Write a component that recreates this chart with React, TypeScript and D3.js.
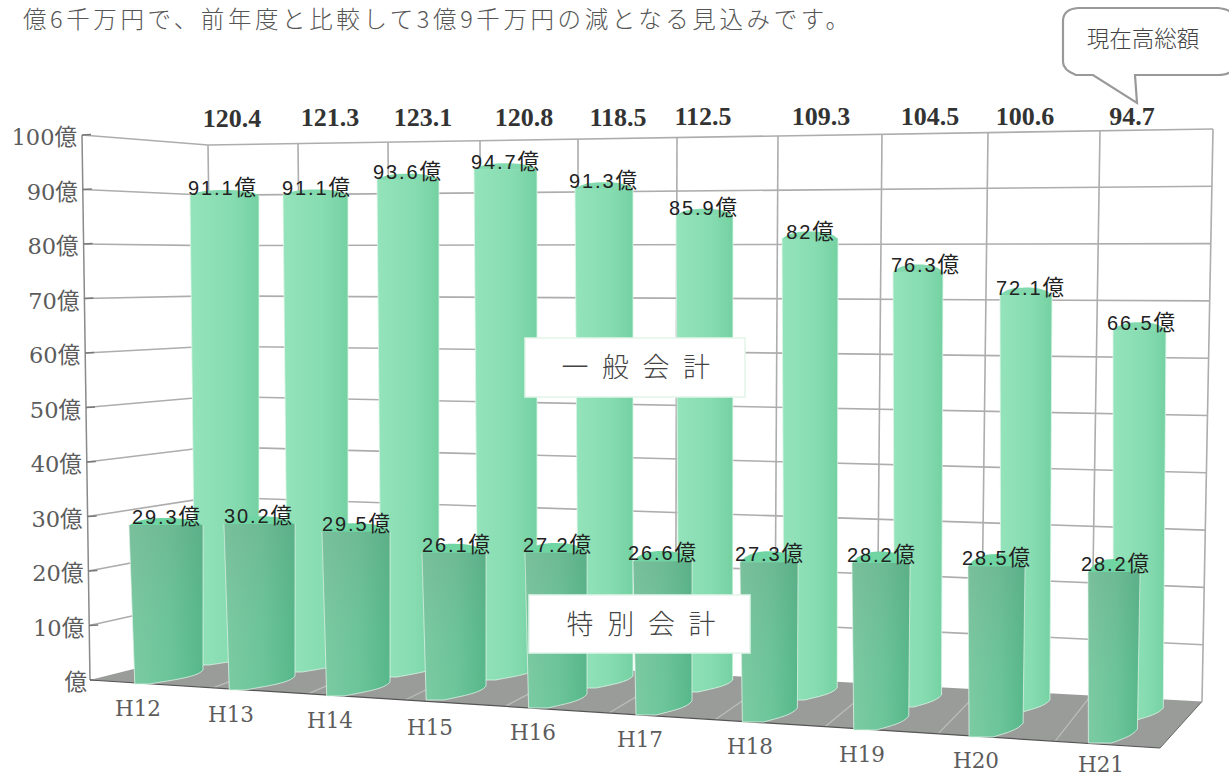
import React from "react";
import * as d3 from "d3";

// ---------- data ----------
const categories = ["H12", "H13", "H14", "H15", "H16", "H17", "H18", "H19", "H20", "H21"];
const generalAccount = [91.1, 91.1, 93.6, 94.7, 91.3, 85.9, 82, 76.3, 72.1, 66.5];
const specialAccount = [29.3, 30.2, 29.5, 26.1, 27.2, 26.6, 27.3, 28.2, 28.5, 28.2];
const totals = ["120.4", "121.3", "123.1", "120.8", "118.5", "112.5", "109.3", "104.5", "100.6", "94.7"];
const yTicks = [0, 10, 20, 30, 40, 50, 60, 70, 80, 90, 100];
const headline = "億6千万円で、前年度と比較して3億9千万円の減となる見込みです。";
const calloutText = "現在高総額";
const legendGeneral = ["一", "般", "会", "計"];
const legendSpecial = ["特", "別", "会", "計"];

// ---------- layout (perspective read-outs) ----------
const idx = categories.map((_, i) => i);
const edges = d3.range(11);
const serif = "'DejaVu Serif','Noto Sans CJK JP',serif";
const sans = "'Liberation Sans','Noto Sans CJK JP',sans-serif";
const cjk = "'Noto Sans CJK JP',sans-serif";

const wallTopX = d3.scaleLinear().domain(edges).range([208, 298, 388, 480, 578, 677, 778, 882, 988, 1100, 1213]);
const wallLean = d3.scaleLinear().domain([208, 1213]).range([7, -11]);
const wallFrac = d3.scaleLinear().domain([208, 1213]).range([0, 1]);
const wallYL = d3.scaleLinear().domain([0, 100]).range([648, 145]);
const wallYR = d3.scaleLinear().domain([0, 100]).range([702, 129]);
const wallY = (x: number, v: number) => d3.interpolateNumber(wallYL(v), wallYR(v))(wallFrac(x));
const axisX = d3.scaleLinear().domain([0, 100]).range([90, 82]);
const axisY = d3.scaleLinear().domain([0, 100]).range([680, 135]);
const floorEdgeX = d3.scaleLinear().domain(edges).range([90, 213, 308, 405, 505, 609, 715, 825, 938, 1055, 1160]);
const floorEdgeY = d3.scaleLinear().domain([90, 1160]).range([680, 748]);

const frontL = d3.scaleLinear().domain(idx).range([129, 224, 322, 422, 525, 633, 740, 852, 968, 1088]);
const frontR = d3.scaleLinear().domain(idx).range([203, 295, 390, 486, 587, 692, 798, 910, 1025, 1140]);
const frontBase = d3.scaleLinear().domain(idx).range([684, 690, 696, 700, 708, 715, 722, 730, 737, 743]);
const frontUnit = d3.scaleLinear().domain([0, 9]).range([5.43, 6.06]);
const backL = d3.scaleLinear().domain(idx).range([190, 283, 377, 474, 575, 676, 782, 893, 1000, 1113]);
const backR = d3.scaleLinear().domain(idx).range([259, 348, 439, 537, 633, 733, 838, 943, 1052, 1166]);
const backBase = d3.scaleLinear().domain(idx).range([665, 672, 677, 680, 688, 692, 700, 707, 712, 720]);
const backUnit = d3.scaleLinear().domain([0, 9]).range([5.16, 5.86]);
const flatShare = d3.scaleLinear().domain([0, 9]).range([0.25, 0.5]);
const barLean = d3.scaleLinear().domain([130, 1100]).range([3, -2.5]);
const capFront = d3.scaleLinear().domain([0, 9]).range([7, 13]);
const capBack = d3.scaleLinear().domain([0, 9]).range([5, 8]);

const totalX = d3.scaleLinear().domain(idx).range([232, 330, 423, 524, 618, 703, 821, 930, 1025, 1132]);
const totalY = d3.scaleLinear().domain([0, 9]).range([118, 116]);
const backLabelX = d3.scaleLinear().domain(idx).range([222, 316, 407, 505, 603, 703, 810, 925, 1030, 1141]);
const frontLabelX = d3.scaleLinear().domain(idx).range([166, 258, 356, 456, 557, 662, 769, 881, 996, 1115]);
const catX = d3.scaleLinear().domain(idx).range([138, 231, 330, 430, 533, 640, 750, 862, 976, 1101]);
const catY = d3.scaleLinear().domain(idx).range([708, 714, 720, 727, 732, 739, 746, 754, 760, 764]);

function barPath(l: number, r: number, base: number, top: number, i: number, rise: number) {
  const lean = barLean((l + r) / 2);
  const bl = l + lean;
  const br = r + Math.min(lean, 0);
  const fx = bl + (br - bl) * flatShare(i);
  const p = d3.path();
  p.moveTo(r, top);
  p.lineTo(br, base - rise);
  p.bezierCurveTo(br - 5, base - rise * 0.5, fx + (br - fx) * 0.45, base - rise * 0.3, fx, base);
  p.lineTo(bl + 3, base);
  p.lineTo(l, top);
  return p.toString();
}

function capPath(l: number, r: number, top: number, h: number) {
  const w = r - l;
  const p = d3.path();
  p.moveTo(l, top + 0.5);
  p.bezierCurveTo(l + w * 0.1, top - h * 0.8, l + w * 0.3, top - h, l + w * 0.5, top - h);
  p.bezierCurveTo(l + w * 0.75, top - h, l + w * 0.92, top - h * 0.7, r, top + 0.5);
  p.closePath();
  return p.toString();
}

const grid = "#adadad";

function ValueLabel({ x, y, v }: { x: number; y: number; v: number }) {
  return (
    <text x={x} y={y} dominantBaseline="central" textAnchor="middle" fontFamily={sans} fontSize={20} letterSpacing={1.9} fill="#222">
      {String(v)}
      <tspan fontSize={21.5} letterSpacing={0}>億</tspan>
    </text>
  );
}

export default function App() {
  return (
    <svg width={1229} height={775} viewBox="0 0 1229 775" style={{ position: "fixed", left: 0, top: 0, background: "#fff" }}>
      <defs>
        <linearGradient id="front" x1="0" x2="1" y1="0" y2="0">
          <stop offset="0" stopColor="#7ccba3" />
          <stop offset="0.55" stopColor="#6cc59a" />
          <stop offset="1" stopColor="#56b88a" />
        </linearGradient>
        <linearGradient id="frontShade" x1="0" x2="0" y1="0" y2="1">
          <stop offset="0" stopColor="#6f8f80" stopOpacity="0.2" />
          <stop offset="0.6" stopColor="#6f8f80" stopOpacity="0.04" />
          <stop offset="1" stopColor="#6f8f80" stopOpacity="0" />
        </linearGradient>
        <linearGradient id="back" x1="0" x2="1" y1="0" y2="0">
          <stop offset="0" stopColor="#94e3bb" />
          <stop offset="0.6" stopColor="#87dcb1" />
          <stop offset="1" stopColor="#74d1a2" />
        </linearGradient>
      </defs>

      <text x={23} y={28} fontFamily={cjk} fontWeight={300} fontSize={23.5} fill="#555" textLength={826} lengthAdjust="spacing">{headline}</text>

      {/* callout */}
      <path
        d="M1078,8 L1218,8 Q1229,9 1232,14 L1232,70 Q1229,75 1218,75 L1135,75 L1137,103 L1093,75 L1076,75 Q1063,70 1063,62 L1063,20 Q1064,9 1078,8 Z"
        fill="#fff" stroke="#999" strokeWidth={2.2}
      />
      <text x={1143} y={37} dominantBaseline="central" textAnchor="middle" fontFamily={cjk} fontWeight={300} fontSize={22.5} fill="#444">{calloutText}</text>

      {/* back wall */}
      {edges.map(e => {
        const xt = wallTopX(e);
        const xb = xt + wallLean(xt);
        return <line key={"v" + e} x1={xt} y1={wallY(xt, 100)} x2={xb} y2={wallY(xb, 0)} stroke={grid} strokeWidth={1.6} />;
      })}
      {yTicks.filter(t => t > 0).map(t => (
        <g key={"h" + t}>
          <line x1={wallTopX(0) + wallLean(208) * (1 - t / 100)} y1={wallYL(t)} x2={wallTopX(10) + wallLean(1213) * (1 - t / 100)} y2={wallYR(t)} stroke={grid} strokeWidth={1.6} />
          <line x1={axisX(t)} y1={axisY(t)} x2={wallTopX(0) + wallLean(208) * (1 - t / 100)} y2={wallYL(t)} stroke={grid} strokeWidth={1.6} />
        </g>
      ))}

      {/* axis */}
      <line x1={axisX(100)} y1={axisY(100)} x2={axisX(0)} y2={axisY(0)} stroke="#8a8a8a" strokeWidth={1.5} />
      {yTicks.map(t => (
        <g key={"t" + t}>
          <line x1={axisX(t)} y1={axisY(t)} x2={axisX(t) + 9} y2={axisY(t) - 0.4} stroke="#777" strokeWidth={1.5} />
          <text x={axisX(t) - 5 - (t === 0 ? -2 : 0)} y={axisY(t) + 2} dominantBaseline="central" textAnchor="end" fontFamily={serif} fontSize={22.5} fill="#5c5c5c">
            {t === 0 ? "億" : `${t}億`}
          </text>
        </g>
      ))}

      {/* floor */}
      <polygon
        points={[[axisX(0), axisY(0)], [floorEdgeX(10), floorEdgeY(1160)], [1202, wallY(1202, 0)], [215, wallY(215, 0)]].map(p => p.join(",")).join(" ")}
        fill="#9a9c9a"
      />
      {edges.slice(1, 10).map(e => {
        const xt = wallTopX(e);
        const xb = xt + wallLean(xt);
        const xf = floorEdgeX(e);
        return <line key={"f" + e} x1={xb} y1={wallY(xb, 0)} x2={xf} y2={floorEdgeY(xf)} stroke="#bcbebc" strokeWidth={1.2} />;
      })}
      <line x1={axisX(0)} y1={axisY(0)} x2={floorEdgeX(10)} y2={floorEdgeY(1160)} stroke="#555" strokeWidth={1.2} />
      <line x1={floorEdgeX(10)} y1={floorEdgeY(1160)} x2={1202} y2={wallY(1202, 0)} stroke="#666" strokeWidth={1} />

      {/* back row: 一般会計 */}
      {generalAccount.map((v, i) => {
        const top = backBase(i) - backUnit(i) * v;
        return (
          <g key={"b" + i}>
            <path d={capPath(backL(i), backR(i), top, capBack(i))} fill="#82d9ad" />
            <path d={barPath(backL(i), backR(i), backBase(i), top, i, 12)} fill="url(#back)" stroke="#d9f5e6" strokeWidth={0.8} />
          </g>
        );
      })}

      {/* front row: 特別会計 */}
      {specialAccount.map((v, i) => {
        const top = frontBase(i) - frontUnit(i) * v;
        const d = barPath(frontL(i), frontR(i), frontBase(i), top, i, 14);
        return (
          <g key={"s" + i}>
            <path d={capPath(frontL(i), frontR(i), top, capFront(i))} fill="#6fd5a3" />
            <path d={d} fill="url(#front)" stroke="#dcf3e6" strokeWidth={0.8} />
            <path d={d} fill="url(#frontShade)" />
          </g>
        );
      })}

      {/* value labels */}
      {generalAccount.map((v, i) => (
        <ValueLabel key={"bl" + i} x={backLabelX(i)} y={backBase(i) - backUnit(i) * v - 7} v={v} />
      ))}
      {specialAccount.map((v, i) => (
        <ValueLabel key={"sl" + i} x={frontLabelX(i)} y={frontBase(i) - frontUnit(i) * v - 8} v={v} />
      ))}

      {/* totals */}
      {totals.map((t, i) => (
        <text key={"tot" + i} x={totalX(i)} y={totalY(i)} dominantBaseline="central" textAnchor="middle" fontFamily="'Liberation Serif',serif" fontWeight={700} fontSize={26} fill="#333">{t}</text>
      ))}

      {/* categories */}
      {categories.map((c, i) => (
        <text key={c} x={catX(i)} y={catY(i)} dominantBaseline="central" textAnchor="middle" fontFamily={serif} fontSize={21.5} fill="#5c5c5c">{c}</text>
      ))}

      {/* legend boxes */}
      <rect x={525} y={338} width={220} height={59} fill="#fff" stroke="#e2f5ea" strokeWidth={1.5} />
      {legendGeneral.map((ch, i) => (
        <text key={"g" + i} x={575 + i * 40.5} y={365} dominantBaseline="central" textAnchor="middle" fontFamily={cjk} fontWeight={300} fontSize={27} fill="#444">{ch}</text>
      ))}
      <rect x={529} y={595} width={221} height={58} fill="#fff" stroke="#e2f5ea" strokeWidth={1.5} />
      {legendSpecial.map((ch, i) => (
        <text key={"p" + i} x={580 + i * 40.7} y={622} dominantBaseline="central" textAnchor="middle" fontFamily={cjk} fontWeight={300} fontSize={27} fill="#444">{ch}</text>
      ))}
    </svg>
  );
}
